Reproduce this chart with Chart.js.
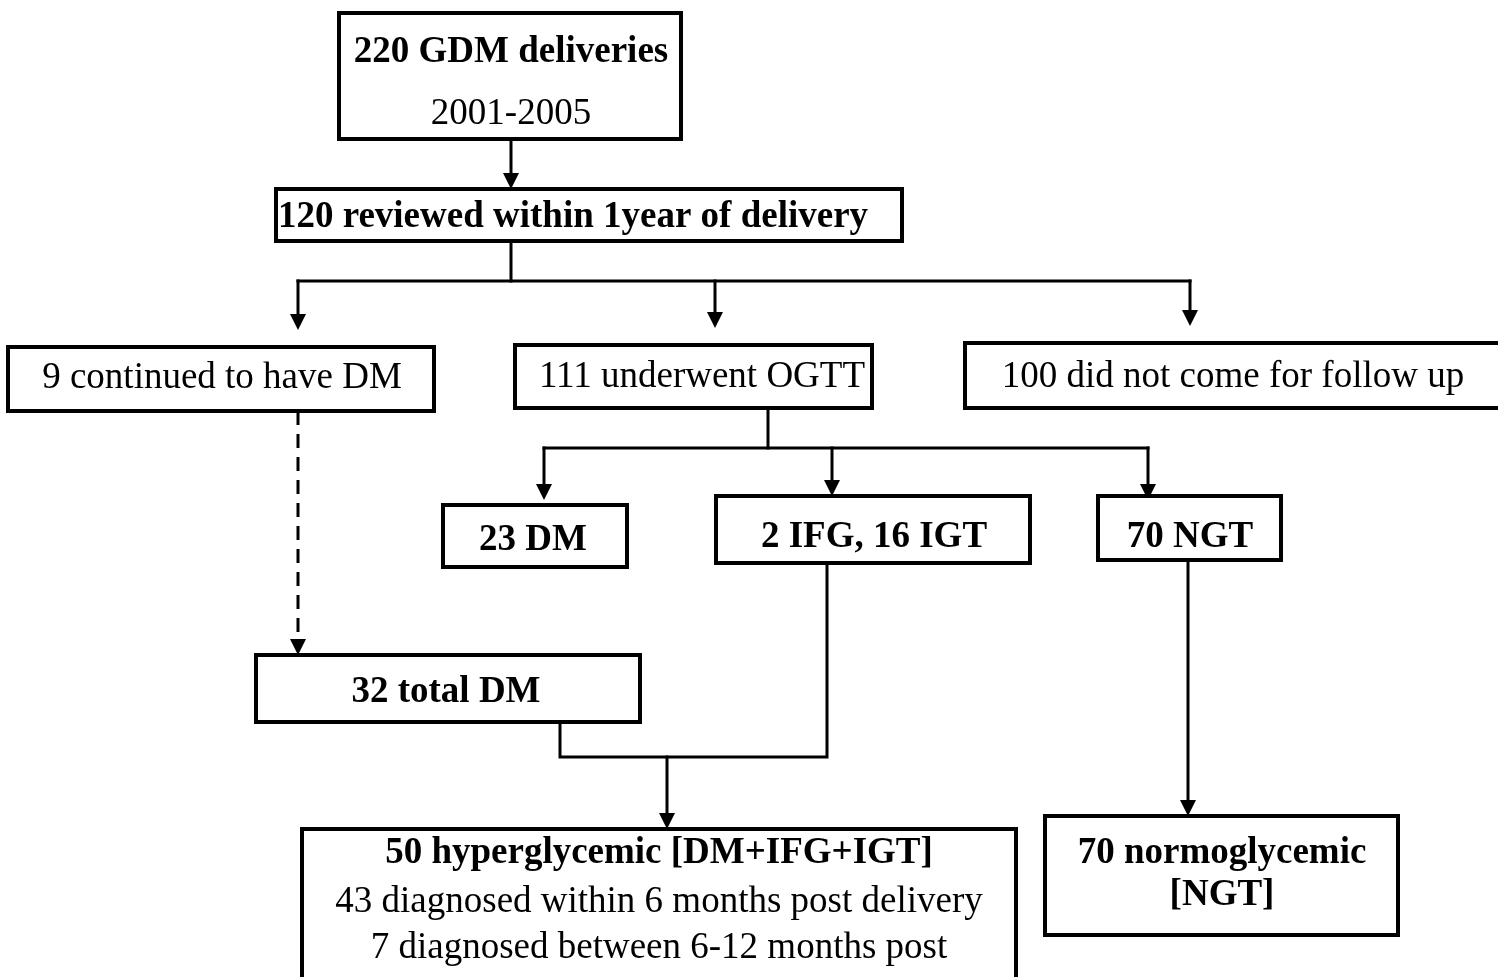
<!DOCTYPE html>
<html lang="en">
<head>
  <meta charset="UTF-8" />
  <title>GDM follow-up flowchart</title>
  <script src="https://cdn.jsdelivr.net/npm/chart.js"></script>
  <style>
    html, body { margin: 0; padding: 0; background: #ffffff; }
    #wrap { width: 1498px; height: 977px; }
  </style>
</head>
<body>
  <div id="wrap"><canvas id="flow" width="1498" height="977"></canvas></div>

  <script>
    // box texts (one entry per box, one string per line) and bold flags
    const boxLabels = [
      ['220 GDM deliveries', '2001-2005'],
      ['120 reviewed within 1year of delivery'],
      ['9 continued to have DM'],
      ['111 underwent OGTT'],
      ['100 did not come for follow up'],
      ['23 DM'],
      ['2 IFG, 16 IGT'],
      ['70 NGT'],
      ['32 total DM'],
      ['50 hyperglycemic [DM+IFG+IGT]', '43 diagnosed within 6 months post delivery', '7 diagnosed between 6-12 months post'],
      ['70 normoglycemic', '[NGT]']
    ];
    const boxBold = [
      [true, false], [true], [false], [false], [false],
      [true], [true], [true], [true],
      [true, false, false], [true, true]
    ];

    // box frames, in chart units (x: 0..1498, y: 0..977 from top)
    const boxLeft   = [339, 276,   8, 515,  965, 443,  716, 1098, 256,  302, 1045];
    const boxRight  = [681, 902, 434, 872, 1510, 627, 1030, 1281, 640, 1016, 1398];
    const boxTop    = [ 13, 189, 347, 345,  343, 505,  496,  496, 655,  829,  816];
    const boxBottom = [139, 241, 411, 408,  408, 567,  563,  560, 722,  990,  935];
    // text centre x and per-line visual centre y
    const textX = [511, 573, 222, 702, 1233, 533, 874, 1190, 446, 659, 1222];
    const textY = [[50, 112], [215], [376], [375], [375], [538], [535], [535], [690], [851, 900, 946], [851, 893]];

    // connectors: polylines [x, y, x, y, ...], arrow at the last point
    const links = [
      [511, 139, 511, 189],
      [511, 241, 511, 281],
      [298, 281, 1190, 281],
      [298, 281, 298, 330],
      [715, 281, 715, 328],
      [1190, 281, 1190, 326],
      [768, 408, 768, 448],
      [544, 448, 1148, 448],
      [544, 448, 544, 500],
      [832, 448, 832, 496],
      [1148, 448, 1148, 500],
      [298, 411, 298, 655],
      [560, 717, 560, 757, 827, 757, 827, 563],
      [667, 757, 667, 829],
      [1188, 560, 1188, 816]
    ];
    const linkArrow  = [true, false, false, true, true, true, false, false, true, true, true, true, false, true, true];
    const linkDashed = [false, false, false, false, false, false, false, false, false, false, false, true, false, false, false];

    const fontFamily = '"Liberation Serif", "Times New Roman", serif';

    const flowPlugin = {
      id: 'flowchart',
      afterDraw(chart) {
        const ctx = chart.ctx;
        const sx = v => chart.scales.x.getPixelForValue(v);
        const sy = v => chart.scales.y.getPixelForValue(v);
        ctx.save();
        ctx.strokeStyle = '#000';
        ctx.fillStyle = '#000';
        ctx.lineCap = 'square';
        ctx.lineJoin = 'miter';

        // connectors
        links.forEach((pts, i) => {
          ctx.lineWidth = 3;
          ctx.lineCap = linkDashed[i] ? 'butt' : 'square';
          ctx.setLineDash(linkDashed[i] ? [14, 9] : []);
          const n = pts.length / 2;
          const endY = pts[pts.length - 1];
          const lastX = pts[pts.length - 2];
          const prevY = pts[pts.length - 3];
          const dir = prevY < endY ? -1 : 1;
          ctx.beginPath();
          for (let k = 0; k < n; k++) {
            const x = sx(pts[2 * k]);
            let y = sy(pts[2 * k + 1]);
            if (linkArrow[i] && k === n - 1) y = sy(endY) + dir * 12;
            if (k === 0) ctx.moveTo(x, y); else ctx.lineTo(x, y);
          }
          ctx.stroke();
          ctx.setLineDash([]);
          if (linkArrow[i]) {
            const tx = sx(lastX), ty = sy(endY);
            ctx.beginPath();
            ctx.moveTo(tx, ty);
            ctx.lineTo(tx - 8, ty + dir * 16);
            ctx.lineTo(tx + 8, ty + dir * 16);
            ctx.closePath();
            ctx.fill();
          }
        });

        // boxes
        boxLabels.forEach((lines, i) => {
          const x1 = sx(boxLeft[i]), x2 = sx(boxRight[i]);
          const y1 = sy(boxTop[i]), y2 = sy(boxBottom[i]);
          ctx.fillStyle = '#fff';
          ctx.fillRect(x1, y1, x2 - x1, y2 - y1);
          ctx.lineWidth = 4;
          ctx.strokeRect(x1, y1, x2 - x1, y2 - y1);
          ctx.fillStyle = '#000';
          ctx.textAlign = 'center';
          ctx.textBaseline = 'alphabetic';
          lines.forEach((txt, j) => {
            ctx.font = (boxBold[i][j] ? 'bold ' : '') + '37px ' + fontFamily;
            ctx.fillText(txt, sx(textX[i]), sy(textY[i][j]) + 12);
          });
        });
        ctx.restore();
      }
    };

    new Chart(document.getElementById('flow').getContext('2d'), {
      type: 'scatter',
      data: {
        datasets: [{
          data: boxLabels.map((_, i) => ({ x: textX[i], y: textY[i][0] })),
          pointRadius: 0,
          pointHoverRadius: 0
        }]
      },
      options: {
        responsive: false,
        animation: false,
        devicePixelRatio: 1,
        layout: { padding: 0 },
        scales: {
          x: { type: 'linear', min: 0, max: 1498, display: false },
          y: { type: 'linear', min: 0, max: 977, reverse: true, display: false }
        },
        plugins: {
          legend: { display: false },
          tooltip: { enabled: false }
        }
      },
      plugins: [flowPlugin]
    });
  </script>
</body>
</html>
